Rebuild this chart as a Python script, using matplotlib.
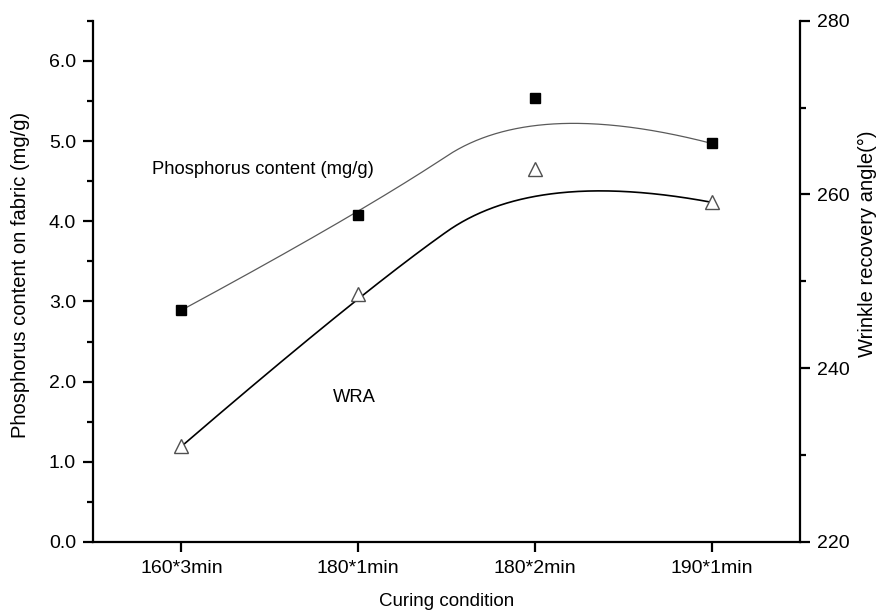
import numpy as np
import matplotlib
matplotlib.use("Agg")
import matplotlib.pyplot as plt
from matplotlib.ticker import MultipleLocator, FormatStrFormatter

plt.rcParams['font.family'] = ['Liberation Sans', 'DejaVu Sans']

categories = ["160*3min", "180*1min", "180*2min", "190*1min"]
phosphorus = [2.89, 4.08, 5.54, 4.97]       # mg/g, left axis
wra = [231.0, 248.5, 262.9, 259.1]           # degrees, right axis


def quad_bspline(xs, ys, n=200):
    """Clamped quadratic B-spline using the points as control points."""
    P = np.column_stack([xs, ys]).astype(float)
    k = len(P)
    starts = [P[0]] + [(P[i] + P[i + 1]) / 2 for i in range(1, k - 2)]
    ends = [(P[i] + P[i + 1]) / 2 for i in range(1, k - 2)] + [P[-1]]
    ctrls = [P[i] for i in range(1, k - 1)]
    out = []
    t = np.linspace(0, 1, n)[:, None]
    for a, c, b in zip(starts, ctrls, ends):
        out.append((1 - t) ** 2 * a + 2 * (1 - t) * t * c + t ** 2 * b)
    out = np.vstack(out)
    return out[:, 0], out[:, 1]


x = np.arange(len(categories))

fig = plt.figure(figsize=(8.8, 6.13), dpi=100)
ax = fig.add_axes([93 / 880, 1 - 542 / 613, (800 - 93) / 880, (542 - 20.7) / 613])
ax2 = ax.twinx()

# phosphorus
cx, cy = quad_bspline(x, phosphorus)
ax.plot(cx, cy, color='#5a5a5a', lw=0.9, zorder=2)
ax.plot(x, phosphorus, ls='none', marker='s', ms=6.7, mfc='black', mec='black', zorder=3)

# WRA
wx, wy = quad_bspline(x, wra)
ax2.plot(wx, wy, color='black', lw=1.2, zorder=2)
ax2.plot(x, wra, ls='none', marker='^', ms=9.5, mfc='white', mec='#505050', mew=1.0, zorder=3)

ax.set_xlim(-0.5, 3.5)
ax.set_ylim(0, 6.5)
ax2.set_ylim(220, 280)

ax.set_xticks(x)
ax.set_xticklabels(categories)
ax.yaxis.set_major_locator(MultipleLocator(1.0))
ax.yaxis.set_minor_locator(MultipleLocator(0.5))
ax.yaxis.set_major_formatter(FormatStrFormatter('%.1f'))
ax2.yaxis.set_major_locator(MultipleLocator(20))
ax2.yaxis.set_minor_locator(MultipleLocator(10))

for a in (ax, ax2):
    a.spines['top'].set_visible(False)
    for s in a.spines.values():
        s.set_linewidth(1.6)
ax.spines['right'].set_visible(False)
ax2.spines['left'].set_visible(False)
ax2.spines['bottom'].set_visible(False)

fs_tick = 14
fs_lab = 14.5
fs_txt = 13.2
ax.tick_params(axis='both', which='major', direction='out', length=7.2, width=1.6,
               labelsize=fs_tick, pad=5)
ax.tick_params(axis='x', which='major', pad=6)
ax.tick_params(axis='y', which='minor', direction='out', length=4.3, width=1.6)
ax.tick_params(axis='x', which='minor', bottom=False)
ax2.tick_params(axis='y', which='major', direction='out', length=7.2, width=1.6,
                labelsize=fs_tick, pad=5)
ax2.tick_params(axis='y', which='minor', direction='out', length=4.3, width=1.6)

ax.set_xlabel("Curing condition", fontsize=13.5, va='center')
ax.xaxis.set_label_coords(0.5, (542 - 602) / 521.3)
ax.set_ylabel("Phosphorus content on fabric (mg/g)", fontsize=fs_lab, va='center')
ax.yaxis.set_label_coords(-0.103, (542 - 275) / 521.3)
ax2.set_ylabel("Wrinkle recovery angle(°)", fontsize=fs_lab, va='center')
ax2.yaxis.set_label_coords(1.096, (542 - 244) / 521.3)

ax.text(-0.164, 4.64, "Phosphorus content (mg/g)", fontsize=fs_txt, ha='left', va='center')
ax.text(0.98, 1.8, "WRA", fontsize=fs_txt, ha='center', va='center')

fig.savefig("out.png", dpi=100)
